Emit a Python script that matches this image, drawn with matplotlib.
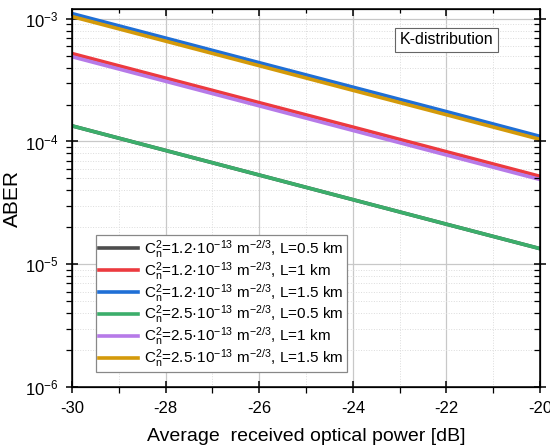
import numpy as np
import matplotlib
matplotlib.use("Agg")
from matplotlib import pyplot as plt
from matplotlib.ticker import LogLocator, NullFormatter, MultipleLocator

plt.rcParams['font.family'] = ['Liberation Sans', 'DejaVu Sans']
plt.rcParams['mathtext.fontset'] = 'custom'
plt.rcParams['mathtext.rm'] = 'Liberation Sans'
plt.rcParams['mathtext.it'] = 'Liberation Sans'
plt.rcParams['axes.unicode_minus'] = False

# received power [dB]
power = [-30, -28, -26, -24, -22, -20]

# ABER values (black curve sits under the green one)
aber_12_05 = [1.34e-4, 8.45e-5, 5.33e-5, 3.36e-5, 2.12e-5, 1.34e-5]
aber_12_10 = [5.2e-4, 3.28e-4, 2.07e-4, 1.31e-4, 8.25e-5, 5.2e-5]
aber_12_15 = [1.1e-3, 6.95e-4, 4.38e-4, 2.77e-4, 1.75e-4, 1.1e-4]
aber_25_05 = [1.34e-4, 8.45e-5, 5.33e-5, 3.36e-5, 2.12e-5, 1.34e-5]
aber_25_10 = [4.9e-4, 3.09e-4, 1.95e-4, 1.23e-4, 7.76e-5, 4.9e-5]
aber_25_15 = [1.04e-3, 6.56e-4, 4.14e-4, 2.61e-4, 1.65e-4, 1.04e-4]

labels = [
    r"C$_\mathregular{n}^\mathregular{2}$=1.2·10$^\mathregular{-13}$ m$^\mathregular{-2/3}$, L=0.5 km",
    r"C$_\mathregular{n}^\mathregular{2}$=1.2·10$^\mathregular{-13}$ m$^\mathregular{-2/3}$, L=1 km",
    r"C$_\mathregular{n}^\mathregular{2}$=1.2·10$^\mathregular{-13}$ m$^\mathregular{-2/3}$, L=1.5 km",
    r"C$_\mathregular{n}^\mathregular{2}$=2.5·10$^\mathregular{-13}$ m$^\mathregular{-2/3}$, L=0.5 km",
    r"C$_\mathregular{n}^\mathregular{2}$=2.5·10$^\mathregular{-13}$ m$^\mathregular{-2/3}$, L=1 km",
    r"C$_\mathregular{n}^\mathregular{2}$=2.5·10$^\mathregular{-13}$ m$^\mathregular{-2/3}$, L=1.5 km",
]
colors = ["#4d4d4d", "#ec3a3f", "#1f6fd6", "#3cae6b", "#b67ae8", "#d49a0a"]
series = [aber_12_05, aber_12_10, aber_12_15, aber_25_05, aber_25_10, aber_25_15]

fig = plt.figure(figsize=(5.5, 4.47), dpi=100)
ax = fig.add_axes([0.131, 0.134, 0.851, 0.846])

for y, c, lab in zip(series, colors, labels):
    ax.plot(power, y, color=c, lw=2.6, label=lab)

ax.set_yscale("log")
ax.set_xlim(-30, -20)
ax.set_ylim(1e-6, 1.2e-3)


def set_locators(a):
    a.xaxis.set_major_locator(MultipleLocator(2))
    a.xaxis.set_minor_locator(MultipleLocator(1))
    a.yaxis.set_major_locator(LogLocator(base=10, numticks=10))
    a.yaxis.set_minor_locator(LogLocator(base=10, subs=np.arange(2, 10), numticks=10))
    a.yaxis.set_minor_formatter(NullFormatter())


set_locators(ax)

ax.grid(which="major", color="#c8c8c8", lw=0.9)
ax.grid(which="minor", color="#dcdcdc", lw=0.7, ls=":")
ax.set_axisbelow(True)

ax.tick_params(which="major", direction="inout", length=8, width=1.1, labelsize=12, pad=6)
ax.tick_params(which="minor", direction="out", length=4, width=0.9)
for s in ax.spines.values():
    s.set_linewidth(1.1)

# top / right ticks pointing inward
ax2 = ax.twinx()
ax2.set_yscale("log")
ax2.set_ylim(ax.get_ylim())
ax3 = ax2.twiny()
ax3.set_xlim(ax.get_xlim())
set_locators(ax2)
set_locators(ax3)
ax2.tick_params(which="major", direction="inout", length=8, width=1.1, labelright=False)
ax2.tick_params(which="minor", direction="in", length=4, width=0.9)
ax3.tick_params(which="major", direction="in", length=5, width=1.1, labeltop=False)
ax3.tick_params(which="minor", direction="in", length=3, width=0.9)
ax3.tick_params(axis="y", which="both", right=False, left=False, labelleft=False, labelright=False)

ax.set_xlabel("Average  received optical power [dB]", fontsize=14, labelpad=9)
ax.set_ylabel("ABER", fontsize=15, labelpad=2)

leg = ax3.legend(*ax.get_legend_handles_labels(), loc="lower left",
                 bbox_to_anchor=(0.034, 0.019), fontsize=11,
                 frameon=True, fancybox=False, edgecolor="#888888", framealpha=1,
                 handlelength=2.6, borderpad=0.2, labelspacing=0.0, handletextpad=0.4)
leg.get_frame().set_linewidth(0.9)

ax3.text(0.80, 0.918, "K-distribution", transform=ax.transAxes, fontsize=11.5,
         ha="center", va="center",
         bbox=dict(boxstyle="square,pad=0.3", fc="white", ec="#666666", lw=0.8))

fig.savefig("out.png", dpi=100)
